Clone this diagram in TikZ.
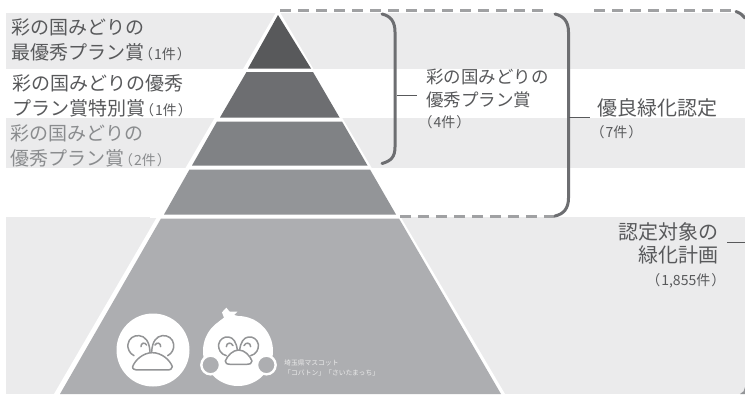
\documentclass[tikz,border=0pt]{standalone}
\usepackage{fontspec}
\setmainfont{Noto Sans CJK JP}
\definecolor{band}{HTML}{EBEBEC}
\definecolor{p1}{HTML}{58595B}
\definecolor{p2}{HTML}{6D6E71}
\definecolor{p3}{HTML}{808285}
\definecolor{p4}{HTML}{939598}
\definecolor{p5}{HTML}{ADAEB1}
\definecolor{brk}{HTML}{6D6E71}
\definecolor{dsh}{HTML}{A0A1A3}
\definecolor{txt}{HTML}{58595B}
\definecolor{txtl}{HTML}{8A8C8E}
\newcommand{\cnt}[1]{{\fontsize{14}{14}\selectfont\addfontfeatures{RawFeature=+palt}\kern1.5pt #1}}
\newcommand{\inn}{\kern1.5pt}
\tikzset{x=1pt,y=-1pt,
 bandfill/.style={fill=band,draw=none},
 brace/.style={draw=brk,line width=3pt,line cap=round},
 dashline/.style={draw=dsh,line width=2.6pt,dash pattern=on 10.5pt off 7.5pt},
 lead/.style={draw=txt,line width=.9pt},
 big/.style={font=\fontsize{19}{25}\selectfont,text=txt,align=left,inner sep=0pt},
 mid/.style={font=\fontsize{17.5}{23}\selectfont,text=txt,align=left,inner sep=0pt},
 wide/.style={font=\fontsize{20}{23}\selectfont,text=txt,align=right,inner sep=0pt},
 small/.style={font=\fontsize{14}{14}\selectfont\addfontfeatures{RawFeature=+palt},text=txt,align=left,inner sep=0pt},
 tiny/.style={font=\fontsize{6.8}{10.5}\selectfont,text=white!92!black,align=left,inner sep=0pt},
 feat/.style={draw=p5!85!black,line width=1.5pt,fill=none,line cap=round,line join=round},
 zoomed/.style={x=0.3333pt,y=-0.3333pt},
}
\begin{document}
\begin{tikzpicture}
\useasboundingbox (0,0) rectangle (745,394);
\fill[white] (0,0) rectangle (745,394);
% bands
\path[bandfill] (6,13) rectangle (745,68.5);
\path[bandfill] (6,118) rectangle (745,168);
\path[bandfill] (6,217) rectangle (745,394);
\fill[p4] (745,387) .. controls (745,390) and (743,393) .. (740,394) -- (745,394) -- cycle;
% pyramid
\fill[white] (278,9) -- (505,394) -- (54,394) -- cycle;
\fill[white] (150,215) rectangle (410,218);
\fill[p1] (278,15) -- (311,68.5) -- (248,68.5) -- cycle;
\fill[p2] (246.5,72) -- (313,72) -- (339.5,117.5) -- (220,117.5) -- cycle;
\fill[p3] (217,121.5) -- (342,121.5) -- (367.5,165.5) -- (192,165.5) -- cycle;
\fill[p4] (189.5,169.5) -- (370,169.5) -- (396,214.5) -- (164,214.5) -- cycle;
\fill[p5] (161,218.5) -- (399,218.5) -- (501,394) -- (60,394) -- cycle;
% brackets
\coordinate (d1) at (280,10.7);
\coordinate (d2) at (546,10.7);
\coordinate (d3) at (594,10.7);
\coordinate (d4) at (735,10.7);
\coordinate (d5) at (400,216.5);
\coordinate (d6) at (555,216.5);
\draw[dashline] (d1) -- (d2);
\draw[dashline] (d3) -- (d4);
\draw[dashline] (d5) -- (d6);
\draw[brace] (382,14) .. controls (391,16) and (395,22) .. (395,32) -- (395,147) .. controls (395,157) and (391,161) .. (382,163.5);
\draw[brace] (555,14) .. controls (564,16) and (568.5,22) .. (568.5,32) -- (568.5,198) .. controls (568.5,208) and (564,214) .. (555,216);
\draw[brace] (736,11.5) .. controls (740,13) and (743,15) .. (745,18);
\coordinate (b1) at (397,95);
\coordinate (b1e) at (417,95);
\coordinate (b2) at (569,117);
\coordinate (b2e) at (590,117);
\coordinate (b3) at (727,242);
\coordinate (b3e) at (745,242);
\draw[lead] (b1) -- (b1e);
\draw[lead] (b2) -- (b2e);
\draw[lead] (b3) -- (b3e);
% left labels
\node[big,anchor=north west] (l1) at (11,19) {彩の国みどりの\\最優秀プラン賞\cnt{（\inn 1件\inn ）}};
\node[big,anchor=north west] (l2) at (12,74) {彩の国みどりの優秀\\プラン賞特別賞\cnt{（\inn 1件\inn ）}};
\node[big,anchor=north west,text=txtl] (l3) at (10,124.5) {彩の国みどりの\\優秀プラン賞\cnt{（\inn 2件\inn ）}};
% right labels
\node[mid,anchor=north west] (r1) at (426,69) {彩の国みどりの\\優秀プラン賞};
\node[small,anchor=north west] (r1c) at (425,115) {（\inn 4件\inn ）};
\node[wide,anchor=north west] (r2) at (597,98) {優良緑化認定};
\node[small,anchor=north west] (r2c) at (597,125) {（\inn 7件\inn ）};
\node[wide,anchor=north east] (r3) at (719,222.5) {認定対象の\\緑化計画};
\node[small,anchor=north east] (r3c) at (719,273) {（\inn 1,855件\inn ）};
% mascot left
\fill[white] (153,350) circle (36.5);
\begin{scope}[shift={(110,305)},zoomed]
\draw[feat] (72,152) .. controls (58,145) and (52,130) .. (54,118) .. controls (56,100) and (72,90) .. (88,92) .. controls (105,94) and (118,108) .. (120,140);
\draw[feat] (93,125) .. controls (92,114) and (105,110) .. (110,120);
\draw[feat] (173,152) .. controls (187,145) and (193,130) .. (191,118) .. controls (189,100) and (173,90) .. (157,92) .. controls (140,94) and (127,108) .. (125,140);
\draw[feat] (152,125) .. controls (153,114) and (140,110) .. (135,120);
\draw[feat] (68,185) .. controls (75,165) and (100,143) .. (127,143) .. controls (155,143) and (180,165) .. (187,185) .. controls (188,192) and (180,195) .. (170,195) -- (85,195) .. controls (75,195) and (66,192) .. (68,185) -- cycle;
\end{scope}
% mascot right
\begin{scope}[shift={(198,305)},zoomed]
\fill[white] (120,138) circle (105);
\fill[white] (62,50) -- (78,38) -- (72,22) -- (85,8) -- (95,20) -- (118,20) -- (108,30) -- (170,45) -- (120,70) -- cycle;
\draw[feat] (85,152) .. controls (68,148) and (60,132) .. (62,118) .. controls (65,103) and (78,94) .. (92,96) .. controls (105,98) and (115,110) .. (118,135);
\draw[feat] (85,125) .. controls (85,113) and (100,110) .. (105,122);
\draw[feat] (158,152) .. controls (175,148) and (183,132) .. (181,118) .. controls (178,103) and (165,94) .. (151,96) .. controls (138,98) and (128,110) .. (125,135);
\draw[feat] (158,125) .. controls (158,113) and (143,110) .. (138,122);
\draw[feat] (82,168) .. controls (88,152) and (105,135) .. (122,135) .. controls (140,135) and (156,152) .. (162,168) .. controls (163,175) and (155,178) .. (145,178) -- (98,178) .. controls (88,178) and (80,175) .. (82,168) -- cycle;
\fill[p5,draw=white,line width=2.4pt] (38,180) circle (28);
\fill[p5,draw=white,line width=2.4pt] (205,180) circle (28);
\end{scope}
% caption
\node[tiny,anchor=north west] (cap) at (284,359.5) {埼玉県マスコット\\「コバトン」「さいたまっち」};
\end{tikzpicture}
\end{document}
